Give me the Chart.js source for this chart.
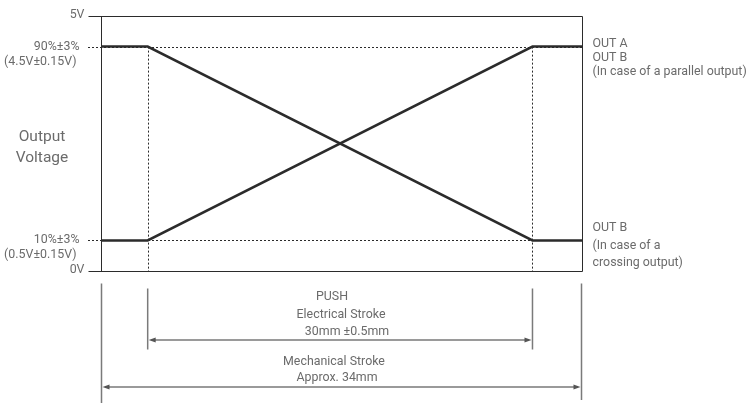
<!DOCTYPE html>
<html>
<head>
<meta charset="utf-8">
<script src="https://cdn.jsdelivr.net/npm/chart.js@4"></script>
<style>
  html, body { margin: 0; padding: 0; background: #fff; }
  #wrap { width: 747px; height: 403px; }
</style>
</head>
<body>
<div id="wrap"><canvas id="mycanvas" width="747" height="403"></canvas></div>
<script>
// stroke positions (mm) and output voltages
var strokeMm = [0, 3.3, 30.5, 34];
var outA = [0.6, 0.6, 4.4, 4.4];
var outB = [4.4, 4.4, 0.6, 0.6];
var voltTicks = [5, 4.4, 0.6, 0];
var voltLabels = [['5V'], ['90%±3%', '(4.5V±0.15V)'], ['10%±3%', '(0.5V±0.15V)'], ['0V']];
var electrical = [3.3, 30.5];
var mechanical = [0, 34];

var FONT = 'Roboto, "Noto Sans", sans-serif';
var TXT = '#6b6b6b';
var INK = '#2b2b2b';

function pts(ys) {
	var r = [];
	for (var i in strokeMm) r.push({x: strokeMm[i], y: ys[i]});
	return r;
}

function arrowHead(ctx, x, y, dir) {
	ctx.beginPath();
	ctx.moveTo(x, y);
	ctx.lineTo(x - dir * 7, y - 2.5);
	ctx.lineTo(x - dir * 7, y + 2.5);
	ctx.closePath();
	ctx.fill();
}

var guides = {
	id: 'guides',
	beforeDatasetsDraw: function(chart) {
		var ctx = chart.ctx, xs = chart.scales.x, ys = chart.scales.y, a = chart.chartArea;
		ctx.save();
		ctx.strokeStyle = INK;
		ctx.lineWidth = 1;
		ctx.setLineDash([2, 2]);
		// horizontal dotted at 90% / 10%
		[voltTicks[1], voltTicks[2]].forEach(function(v) {
			var y = Math.round(ys.getPixelForValue(v)) + 0.5;
			ctx.beginPath();
			ctx.moveTo(a.left - 13, y);
			ctx.lineTo(a.right, y);
			ctx.stroke();
		});
		// vertical dotted at electrical stroke ends
		electrical.forEach(function(m) {
			var x = Math.round(xs.getPixelForValue(m)) + 0.5;
			ctx.beginPath();
			ctx.moveTo(x, ys.getPixelForValue(voltTicks[1]));
			ctx.lineTo(x, ys.getPixelForValue(0));
			ctx.stroke();
		});
		ctx.restore();
	},
	afterDraw: function(chart) {
		var ctx = chart.ctx, xs = chart.scales.x, ys = chart.scales.y, a = chart.chartArea;
		ctx.save();
		// frame
		ctx.strokeStyle = INK;
		ctx.lineWidth = 1;
		var L = Math.round(a.left) + 0.5, R = Math.round(a.right) + 0.5;
		var T = Math.round(ys.getPixelForValue(5)) + 0.5, B = Math.round(ys.getPixelForValue(0)) + 0.5;
		ctx.beginPath();
		ctx.moveTo(L - 13, T); ctx.lineTo(R, T); ctx.lineTo(R, B); ctx.lineTo(L - 13, B);
		ctx.moveTo(L, T); ctx.lineTo(L, B);
		ctx.stroke();

		// y labels
		ctx.fillStyle = TXT;
		ctx.font = '12.4px ' + FONT;
		ctx.textBaseline = 'middle';
		ctx.textAlign = 'right';
		for (var i in voltTicks) {
			var y = ys.getPixelForValue(voltTicks[i]);
			var lab = voltLabels[i];
			if (lab.length == 1) {
				ctx.fillText(lab[0], L - 17, y - 1);
			} else {
				ctx.fillText(lab[0], L - 22, y);
				ctx.fillText(lab[1], L - 25, y + 15);
			}
		}
		ctx.textAlign = 'center';
		ctx.font = '15.5px ' + FONT;
		ctx.fillText('Output', 42, 137);
		ctx.fillText('Voltage', 42, 158);

		// right side labels
		ctx.font = '12.4px ' + FONT;
		ctx.textAlign = 'left';
		var yHi = ys.getPixelForValue(voltTicks[1]);
		var yLo = ys.getPixelForValue(voltTicks[2]);
		ctx.fillText('OUT A', R + 10, yHi - 3);
		ctx.fillText('OUT B', R + 10, yHi + 11);
		ctx.fillText('(In case of a parallel output)', R + 10, yHi + 25);
		ctx.fillText('OUT B', R + 10, yLo - 12);
		ctx.fillText('(In case of a', R + 10, yLo + 6);
		ctx.fillText('crossing output)', R + 10, yLo + 23);

		// stroke dimensions below
		ctx.strokeStyle = '#7a7a7a';
		ctx.fillStyle = '#555';
		ctx.lineWidth = 1.5;
		var m0 = xs.getPixelForValue(mechanical[0]), m1 = xs.getPixelForValue(mechanical[1]);
		var e0 = xs.getPixelForValue(electrical[0]), e1 = xs.getPixelForValue(electrical[1]);
		ctx.beginPath();
		ctx.moveTo(m0 + 0.5, B + 12); ctx.lineTo(m0 + 0.5, 403);
		ctx.moveTo(m1 - 0.5, B + 12); ctx.lineTo(m1 - 0.5, 400);
		ctx.moveTo(e0, B + 17); ctx.lineTo(e0, B + 78);
		ctx.moveTo(e1, B + 17); ctx.lineTo(e1, B + 78);
		ctx.moveTo(e0 + 4, 340); ctx.lineTo(e1 - 4, 340);
		ctx.moveTo(m0 + 4, 387); ctx.lineTo(m1 - 4, 387);
		ctx.stroke();
		arrowHead(ctx, e0 + 1, 340, -1);
		arrowHead(ctx, e1 - 1, 340, 1);
		arrowHead(ctx, m0 + 1.5, 387, -1);
		arrowHead(ctx, m1 - 1.5, 387, 1);

		ctx.fillStyle = TXT;
		ctx.textAlign = 'center';
		ctx.fillText('PUSH', 332, 297);
		ctx.fillText('Electrical Stroke', 341, 315);
		ctx.fillText('30mm \u00b10.5mm', 347, 332);
		ctx.fillText('Mechanical Stroke', 334, 362);
		ctx.fillText('Approx. 34mm', 337, 378);
		ctx.restore();
	}
};

var ctx = document.getElementById('mycanvas');
var myChart = new Chart(ctx, {
	type: 'line',
	data: {
		datasets: [{
			label: 'OUT A',
			data: pts(outA),
			borderColor: INK,
			borderWidth: 2.5,
			pointRadius: 0,
			tension: 0,
			clip: false
		}, {
			label: 'OUT B',
			data: pts(outB),
			borderColor: INK,
			borderWidth: 2.5,
			pointRadius: 0,
			tension: 0,
			clip: false
		}]
	},
	options: {
		responsive: false,
		animation: false,
		events: [],
		layout: { padding: { left: 101, right: 165, top: 16, bottom: 132 } },
		plugins: { legend: { display: false }, tooltip: { enabled: false } },
		scales: {
			x: { type: 'linear', min: 0, max: 34, display: false },
			y: { type: 'linear', min: 0, max: 5, display: false }
		}
	},
	plugins: [guides]
});
</script>
</body>
</html>
